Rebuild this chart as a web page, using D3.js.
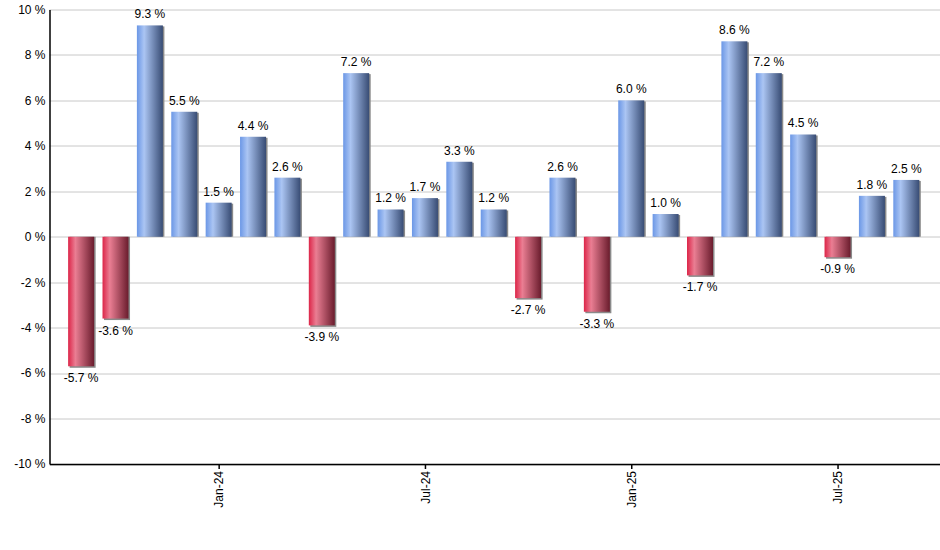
<!DOCTYPE html>
<html>
<head>
<meta charset="utf-8">
<script src="https://cdn.jsdelivr.net/npm/d3@7"></script>
<style>
body { margin:0; background:#fff; }
text { font-family: "Liberation Sans", Arial, sans-serif; }
</style>
</head>
<body>
<div id="chart"></div>
<script>
// data
var months = ['Sep-23','Oct-23','Nov-23','Dec-23','Jan-24','Feb-24','Mar-24','Apr-24','May-24',
	'Jun-24','Jul-24','Aug-24','Sep-24','Oct-24','Nov-24','Dec-24','Jan-25','Feb-25','Mar-25',
	'Apr-25','May-25','Jun-25','Jul-25','Aug-25','Sep-25'];
var returns = [-5.7,-3.6,9.3,5.5,1.5,4.4,2.6,-3.9,7.2,1.2,1.7,3.3,1.2,-2.7,2.6,-3.3,6.0,1.0,-1.7,
	8.6,7.2,4.5,-0.9,1.8,2.5];
var xTickLabels = ['Jan-24','Jul-24','Jan-25','Jul-25'];
var yTicks = [-10,-8,-6,-4,-2,0,2,4,6,8,10];

//margins
var svgWidth = 940,
svgHeight = 550;

var margin = {t:9.5, r:0, b:86, l:49.5};

var width = svgWidth - margin.l - margin.r,
height = svgHeight - margin.t - margin.b;

var svg = d3.select('#chart')
	.append('svg')
	.attr('width', svgWidth)
	.attr('height', svgHeight);

var defs = svg.append('defs');

function gradient(id, c1, c2, c3) {
	var g = defs.append('linearGradient')
		.attr('id', id)
		.attr('x1', '0%').attr('x2', '100%')
		.attr('y1', '0%').attr('y2', '0%');
	g.append('stop').attr('offset', '0%').attr('stop-color', c1);
	g.append('stop').attr('offset', '28%').attr('stop-color', c2);
	g.append('stop').attr('offset', '100%').attr('stop-color', c3);
}
gradient('gPos', '#6b97e6', '#abc5f3', '#384c74');
gradient('gNeg', '#dc2548', '#ea7e93', '#6a1c2d');

var chart = svg.append('g')
	.attr('transform', `translate(${margin.l},${margin.t})`);

var xScale = d3.scaleLinear()
	.domain([-0.92, 24.98])
	.range([0, width]);

var yScale = d3.scaleLinear()
	.domain([-10, 10])
	.range([height, 0]);

// grid
chart.append('g')
	.selectAll('line')
	.data(yTicks)
	.enter()
	.append('line')
	.attr('x1', 0)
	.attr('x2', width)
	.attr('y1', d => Math.round(yScale(d)) + 0.5)
	.attr('y2', d => Math.round(yScale(d)) + 0.5)
	.attr('stroke', '#c8c8c8')
	.attr('stroke-width', 1);

var barW = 26;

// shadows
chart.selectAll('.shadow')
	.data(returns)
	.enter()
	.append('rect')
	.classed('shadow', true)
	.attr('x', (d, i) => xScale(i) - barW / 2 + 1.5)
	.attr('y', d => d >= 0 ? yScale(d) + 1 : yScale(0))
	.attr('width', barW)
	.attr('height', d => Math.abs(yScale(d) - yScale(0)) + (d >= 0 ? -1 : 1.5))
	.attr('fill', '#8a8a8a');

chart.selectAll('.bar')
	.data(returns)
	.enter()
	.append('rect')
	.classed('bar', true)
	.attr('x', (d, i) => xScale(i) - barW / 2)
	.attr('y', d => Math.min(yScale(d), yScale(0)))
	.attr('width', barW)
	.attr('height', d => Math.abs(yScale(d) - yScale(0)))
	.attr('fill', d => d >= 0 ? 'url(#gPos)' : 'url(#gNeg)');

chart.selectAll('.val')
	.data(returns)
	.enter()
	.append('text')
	.classed('val', true)
	.attr('x', (d, i) => xScale(i))
	.attr('y', d => d >= 0 ? yScale(d) - 7 : yScale(d) + 16)
	.attr('text-anchor', 'middle')
	.attr('font-size', '12px')
	.attr('fill', '#000')
	.text(d => d.toFixed(1) + ' %');

// y axis
var yAxis = d3.axisLeft(yScale)
	.tickValues(yTicks)
	.tickSize(0)
	.tickPadding(4)
	.tickFormat(d => d + ' %');

var yG = chart.append('g').call(yAxis);
yG.select('.domain').attr('stroke', '#000').attr('stroke-width', 1.5);
yG.selectAll('text').attr('font-size', '12px').attr('fill', '#000')
	.attr('font-family', '"Liberation Sans", Arial, sans-serif');

// x axis
var xAxis = d3.axisBottom(xScale)
	.tickValues(xTickLabels.map(l => months.indexOf(l)))
	.tickSize(5)
	.tickSizeOuter(0)
	.tickFormat(i => months[i]);

var xG = chart.append('g')
	.attr('transform', `translate(0,${height})`)
	.call(xAxis);
xG.select('.domain').attr('stroke', '#000').attr('stroke-width', 1.5);
xG.selectAll('.tick line').attr('stroke', '#000').attr('stroke-width', 1.5);
xG.selectAll('text')
	.attr('font-size', '12px')
	.attr('fill', '#000')
	.attr('font-family', '"Liberation Sans", Arial, sans-serif')
	.attr('text-anchor', 'end')
	.attr('dy', '0.35em')
	.attr('transform', 'translate(0,7) rotate(-90)')
	.attr('x', 0)
	.attr('y', 0);
</script>
</body>
</html>
